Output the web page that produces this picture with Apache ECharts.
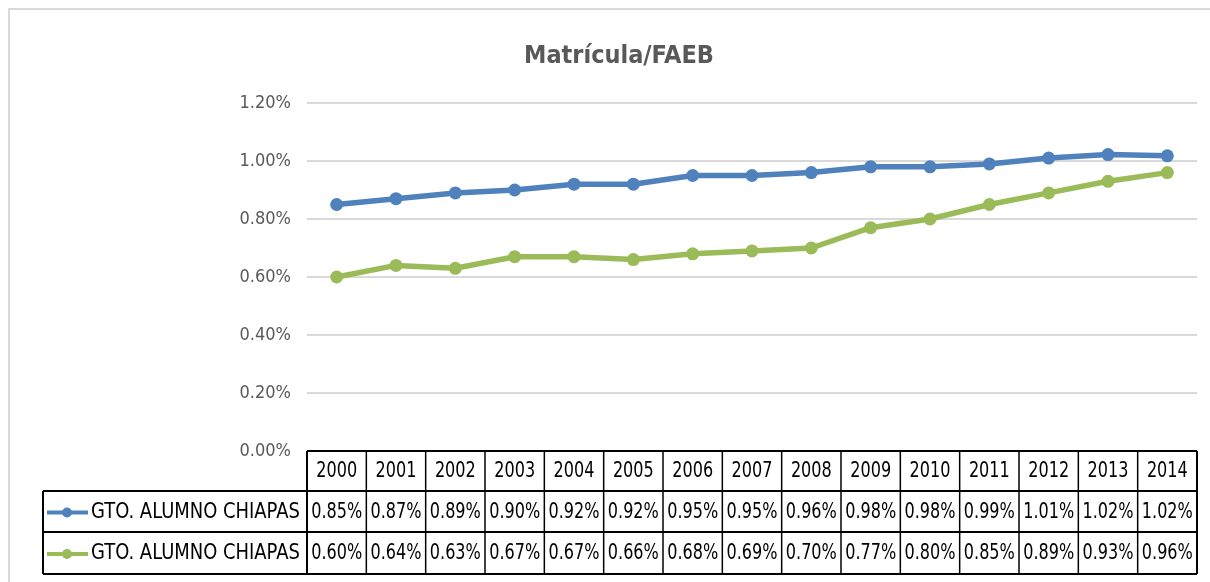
<!DOCTYPE html>
<html>
<head>
<meta charset="UTF-8">
<title>Matrícula/FAEB</title>
<script src="https://cdn.jsdelivr.net/npm/echarts@6/dist/echarts.min.js"></script>
<style>
  html, body { margin: 0; padding: 0; background: #fff; }
  #main { width: 1210px; height: 582px; }
</style>
</head>
<body>
<div id="main"></div>
<script>
  var years = ['2000', '2001', '2002', '2003', '2004', '2005', '2006', '2007',
               '2008', '2009', '2010', '2011', '2012', '2013', '2014'];
  var serieNames = ['GTO. ALUMNO CHIAPAS', 'GTO. ALUMNO CHIAPAS'];
  var serieA = [0.85, 0.87, 0.89, 0.90, 0.92, 0.92, 0.95, 0.95, 0.96, 0.98, 0.98, 0.99, 1.01, 1.022, 1.018];
  var serieB = [0.60, 0.64, 0.63, 0.67, 0.67, 0.66, 0.68, 0.69, 0.70, 0.77, 0.80, 0.85, 0.89, 0.93, 0.96];
  var yTicks = [0, 0.2, 0.4, 0.6, 0.8, 1.0, 1.2];
  var colores = ['#4F81BD', '#9BBB59'];

  var narrow = "'Liberation Sans Narrow', 'DejaVu Sans Condensed', sans-serif";
  var gridLeft = 307, gridRight = 13, gridTop = 103, gridBottom = 131;

  var chart = echarts.init(document.getElementById('main'));

  var option = {
    backgroundColor: '#fff',
    animation: false,
    title: {
      text: 'Matrícula/FAEB',
      left: 614,
      top: 39,
      textAlign: 'center',
      textStyle: { fontFamily: narrow, fontSize: 25, fontWeight: 'bold', color: '#595959' }
    },
    grid: { left: gridLeft, right: gridRight, top: gridTop, bottom: gridBottom },
    xAxis: {
      type: 'category',
      data: years,
      boundaryGap: true,
      axisLine: { show: false },
      axisTick: { show: false },
      axisLabel: { show: false }
    },
    yAxis: {
      type: 'value',
      min: yTicks[0],
      max: yTicks[yTicks.length - 1],
      interval: 0.2,
      axisLine: { show: false },
      axisTick: { show: false },
      splitLine: { lineStyle: { color: '#D9D9D9', width: 2 } },
      axisLabel: {
        margin: 16,
        fontFamily: narrow,
        fontSize: 18,
        color: '#595959',
        formatter: function (v) { return v.toFixed(2) + '%'; }
      }
    },
    series: [
      {
        name: serieNames[0], type: 'line', data: serieA,
        symbol: 'circle', symbolSize: 13,
        lineStyle: { color: colores[0], width: 5.5 },
        itemStyle: { color: colores[0] }
      },
      {
        name: serieNames[1], type: 'line', data: serieB,
        symbol: 'circle', symbolSize: 13,
        lineStyle: { color: colores[1], width: 5.5 },
        itemStyle: { color: colores[1] }
      }
    ]
  };
  chart.setOption(option);

  // tabla de datos debajo del eje
  var rowY = [451, 491, 532, 574];
  var tableLeft = 43;
  var colW = (1210 - gridRight - gridLeft) / years.length;
  var tableRight = gridLeft + colW * years.length;
  var els = [];

  function hline(x1, x2, y, w) {
    els.push({ type: 'line', shape: { x1: x1, y1: y, x2: x2, y2: y }, style: { stroke: '#000', lineWidth: w } });
  }
  function vline(x, y1, y2, w) {
    els.push({ type: 'line', shape: { x1: x, y1: y1, x2: x, y2: y2 }, style: { stroke: '#000', lineWidth: w } });
  }
  // texto angosto: fuente condensada comprimida en horizontal
  function cell(txt, x, y, align, sx) {
    els.push({
      type: 'text', x: x, y: y, scaleX: sx || 0.85,
      style: { text: txt, fill: '#000', fontFamily: narrow, fontSize: 21, align: align || 'center', verticalAlign: 'middle' }
    });
  }

  // marco gris exterior
  els.push({ type: 'rect', shape: { x: 9, y: 9, width: 1220, height: 600 }, style: { fill: null, stroke: '#D9D9D9', lineWidth: 2 } });

  hline(gridLeft, tableRight, rowY[0], 2);
  hline(tableLeft, tableRight, rowY[1], 2);
  hline(tableLeft, tableRight, rowY[2], 2);
  hline(tableLeft, tableRight, rowY[3], 2);
  vline(tableLeft, rowY[1], rowY[3], 2);
  vline(gridLeft, rowY[0], rowY[3], 2);
  for (var i = 0; i < years.length; i++) {
    var cx = chart.convertToPixel({ xAxisIndex: 0 }, i);
    vline(cx + colW / 2, rowY[0], rowY[3], i === years.length - 1 ? 2 : 1.5);
    cell(years[i], cx, (rowY[0] + rowY[1]) / 2 + 1);
    cell(serieA[i].toFixed(2) + '%', cx, (rowY[1] + rowY[2]) / 2 + 1);
    cell(serieB[i].toFixed(2) + '%', cx, (rowY[2] + rowY[3]) / 2 + 1);
  }

  // claves de leyenda dentro de la tabla
  [serieA, serieB].forEach(function (s, k) {
    var cy = (rowY[k + 1] + rowY[k + 2]) / 2 + 1;
    els.push({ type: 'line', shape: { x1: 47, y1: cy, x2: 88, y2: cy }, style: { stroke: colores[k], lineWidth: 4 } });
    els.push({ type: 'circle', shape: { cx: 67, cy: cy, r: 5 }, style: { fill: colores[k] } });
    cell(serieNames[k], 91, cy, 'left', 0.95);
  });

  chart.setOption({ graphic: { elements: els } });
</script>
</body>
</html>
